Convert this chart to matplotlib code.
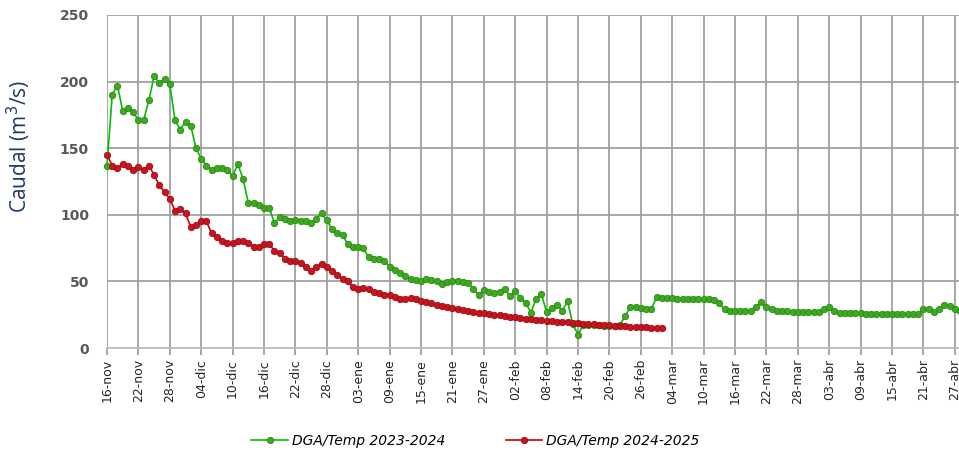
import matplotlib.pyplot as plt
import numpy as np

# Daily flow readings (m3/s), one value per day starting 16-nov
caudal_2023_2024 = [
    137, 190, 197, 178, 180, 177, 171, 171, 186, 204,
    199, 202, 198, 171, 164, 170, 167, 150, 142, 137,
    134, 135, 135, 134, 129, 138, 127, 109, 109, 107,
    105, 105, 94, 98, 97, 95, 96, 95, 95, 94,
    97, 101, 96, 89, 86, 85, 78, 76, 76, 75,
    68, 67, 66.5, 65, 61, 58.5, 56.5, 54, 52, 51,
    50, 52, 51, 50.5, 48, 49.5, 50, 50, 49.5, 48.5,
    44, 40, 43.5, 42, 41, 42, 44, 39, 42.5, 37.5,
    34, 26.5, 37, 40.5, 27, 30, 32.5, 28, 35, 18,
    10, 17.5, 17, 17, 17, 16.5, 16.5, 16.5, 17, 24,
    30.5, 30.5, 30, 29.5, 29, 38, 37.5, 37.5, 37.5, 37,
    37, 37, 37, 36.8, 36.8, 36.5, 36, 33.5, 29, 28,
    27.8, 27.8, 27.8, 28, 30.5, 34.5, 30.5, 29, 28, 27.5,
    27.5, 27.3, 27.3, 27, 27, 27, 27.3, 29, 31, 28,
    26.5, 26.5, 26, 26, 26, 25.8, 25.8, 25.5, 25.5, 25.5,
    25.5, 25.3, 25.3, 25.3, 25.3, 25.5, 29.5, 29.5, 27, 29,
    32, 31.5, 29.5, 28,
]

caudal_2024_2025 = [
    145, 137, 135, 138, 137, 134, 136, 134, 137, 130,
    122, 117, 112, 103, 104, 101, 91, 92, 95, 95,
    86, 83, 80, 79, 79, 80, 80, 79, 76, 76,
    78, 78, 73, 71, 67, 65, 65, 64, 61, 58,
    61, 63, 61, 58, 55, 52, 50, 46, 44, 45,
    44, 42, 41, 40, 39.8, 38, 36.8, 36.6, 37.8, 36.5,
    35.5, 34.5, 33.5, 32.5, 31.5, 30.5, 30, 29, 28.5, 27.5,
    27, 26.5, 26, 25.5, 25, 24.5, 24, 23.5, 23, 22.5,
    22, 21.5, 21, 20.8, 20.5, 20, 19.8, 19.5, 19.2, 19,
    18.5, 18.3, 18, 17.8, 17.5, 17.3, 17, 16.8, 16.5, 16.3,
    16, 15.8, 15.6, 15.4, 15.2, 15, 15,
]

tick_labels = [
    '16-nov', '22-nov', '28-nov', '04-dic', '10-dic', '16-dic', '22-dic',
    '28-dic', '03-ene', '09-ene', '15-ene', '21-ene', '27-ene', '02-feb',
    '08-feb', '14-feb', '20-feb', '26-feb', '04-mar', '10-mar', '16-mar',
    '22-mar', '28-mar', '03-abr', '09-abr', '15-abr', '21-abr', '27-abr',
]

fig = plt.figure(figsize=(9.59, 4.54), dpi=100)
ax = fig.add_axes([107 / 959, 106 / 454, 1 - 107 / 959, 333 / 454])

dias_a = np.arange(len(caudal_2023_2024))
dias_b = np.arange(len(caudal_2024_2025))

ax.plot(dias_a, caudal_2023_2024, color='#00C000', lw=1.2, marker='o', ms=4.6,
        mfc='#3CAA1E', mec='#2A8A12', mew=0.6, clip_on=False, zorder=3,
        label='DGA/Temp 2023-2024')
ax.plot(dias_b, caudal_2024_2025, color='#D00000', lw=1.2, marker='o', ms=4.6,
        mfc='#C8141E', mec='#9A0C12', mew=0.6, clip_on=False, zorder=4,
        label='DGA/Temp 2024-2025')

ax.set_xlim(0, 162.8)
ax.set_ylim(0, 250)
ax.set_xticks(np.arange(len(tick_labels)) * 6)
ax.set_xticklabels(tick_labels, rotation=90, fontsize=9, color='#262626')
ax.set_yticks([0, 50, 100, 150, 200, 250])
ax.set_yticklabels(['0', '50', '100', '150', '200', '250'], fontsize=10,
                   fontweight='bold', color='#595959')

ax.grid(True, color='#A0A0A0', lw=1.3)
ax.set_axisbelow(True)
for s in ['top', 'right', 'left']:
    ax.spines[s].set_visible(False)
ax.spines['bottom'].set_color('#BFBFBF')
ax.spines['bottom'].set_linewidth(1.3)
ax.tick_params(axis='x', length=5, color='#A0A0A0', width=1.3, pad=3)
ax.tick_params(axis='y', length=0, pad=13)

ax.set_ylabel('Caudal (m$^3$/s)', fontsize=15, color='#1F3864',
              family='Open Sans')
ax.yaxis.set_label_coords(-0.087, 0.604)

fig.legend(loc='center', bbox_to_anchor=(0.496, 0.029), ncol=2, frameon=False,
           prop={'style': 'italic', 'size': 10}, handlelength=2.6,
           columnspacing=4.4, handletextpad=0.3)

fig.savefig('out.png', dpi=100)
